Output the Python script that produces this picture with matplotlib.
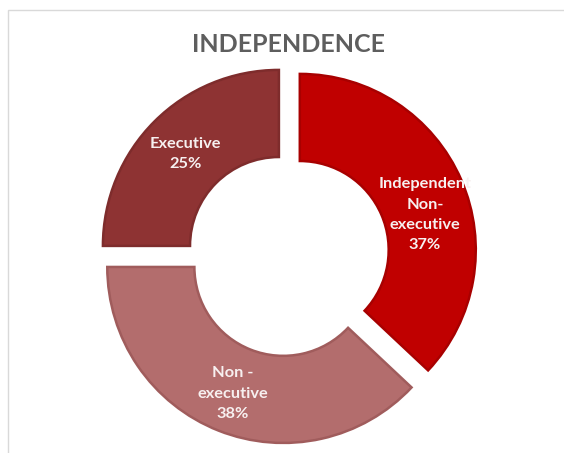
import numpy as np
import matplotlib
matplotlib.use("Agg")
import matplotlib.pyplot as plt
from matplotlib.patches import Rectangle

plt.rcParams["font.family"] = ["Lato", "DejaVu Sans"]

# board composition
labels = ["Independent\nNon-\nexecutive", "Non -\nexecutive", "Executive"]
shares = [37, 38, 25]
colors = ["#C00000", "#B36D6D", "#8E3333"]
edges = ["#A80000", "#A05C5C", "#7E2C2C"]

W, H, DPI = 564, 453, 100
cx, cy = 288, 255      # donut centre in pixels (from top-left)
R_PX = 176             # outer radius in pixels

fig = plt.figure(figsize=(W / DPI, H / DPI), dpi=DPI)
ax = fig.add_axes([0, 0, 1, 1])

explode = [0.073] * len(shares)
ring = 0.495
wedges, _ = ax.pie(shares, colors=colors, startangle=90, counterclock=False,
                   explode=explode, radius=1.0,
                   wedgeprops=dict(width=ring, linewidth=1.8))
for w, ec in zip(wedges, edges):
    w.set_edgecolor(ec)

# pie() resets the limits, so set them afterwards
ax.set_aspect("auto")
ax.set_xlim(-cx / R_PX, (W - cx) / R_PX)
ax.set_ylim(-(H - cy) / R_PX, cy / R_PX)
ax.axis("off")

# labels sit at the middle of each ring segment
nudge = [(0.02, -0.10), (-0.01, -0.02), (0.0, -0.01)]
for w, lab, s, (nx, ny) in zip(wedges, labels, shares, nudge):
    mid = np.deg2rad((w.theta1 + w.theta2) / 2)
    r = 1.0 - ring / 2
    x = w.center[0] + r * np.cos(mid) + nx
    y = w.center[1] + r * np.sin(mid) + ny
    ax.text(x, y, f"{lab}\n{s}%", ha="center", va="center", color="#F7F0F0",
            fontsize=11.8, fontweight="bold", linespacing=1.58)

fig.text(289 / W, 1 - 44 / H, "INDEPENDENCE", ha="center", va="center",
         fontsize=18, fontweight="bold", color="#5E5E5E")

# chart-area frame (only left and top edges fall inside the image)
fig.patches.append(Rectangle((8 / W, -0.5), 2, 1.5 - 10 / H, transform=fig.transFigure,
                             fill=False, edgecolor="#D9D9D9", linewidth=1.0))

fig.savefig("out.png", dpi=DPI, facecolor="white")
